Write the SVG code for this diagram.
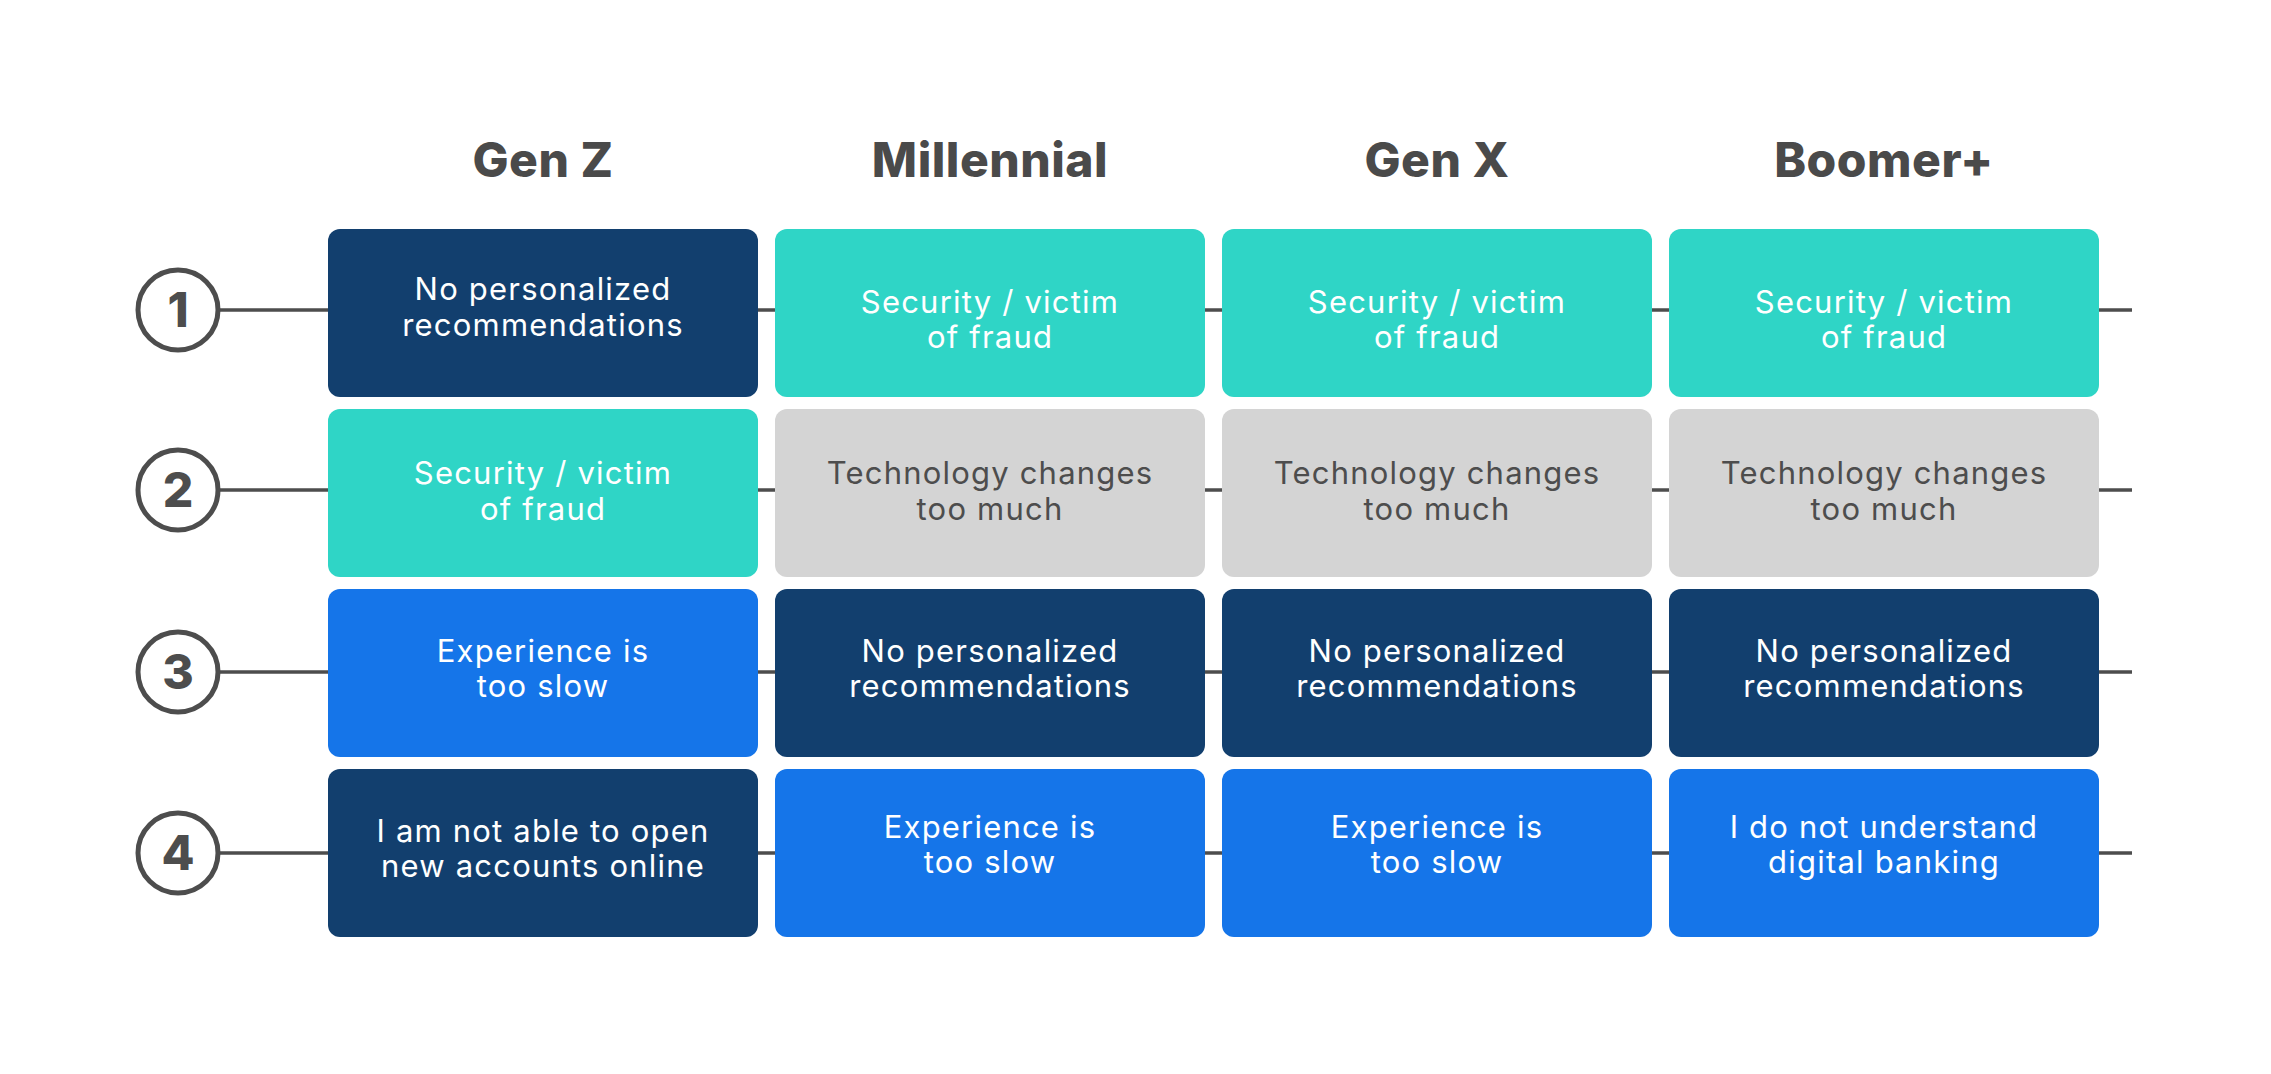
<svg xmlns="http://www.w3.org/2000/svg" width="2271" height="1074" viewBox="0 0 2271 1074">
<style>
.hd{font-family:Inter,"Noto Sans",sans-serif;font-weight:800;font-size:48px;letter-spacing:0.5px;fill:#4a4a4a;text-anchor:middle}
.num{font-family:Inter,"Noto Sans",sans-serif;font-weight:800;font-size:48px;fill:#4d4d4d;text-anchor:middle}
.ring{fill:#fff;stroke:#4d4d4d;stroke-width:5}
.ln{stroke:#4d4d4d;stroke-width:3.5}
.t{font-family:Inter,"Noto Sans",sans-serif;font-weight:400;font-size:31px;letter-spacing:1.2px;text-anchor:middle;fill:#fff}
.dk{fill:#4d4d4d}
.navy{fill:#123f6e}
.teal{fill:#2fd5c6}
.gray{fill:#d4d4d4}
.blue{fill:#1575e9}
</style>
<rect width="2271" height="1074" fill="#fff"/>
<g id="headers">
<text class="hd" x="543" y="177">Gen Z</text>
<text class="hd" x="990" y="177">Millennial</text>
<text class="hd" x="1437" y="177">Gen X</text>
<text class="hd" x="1884" y="177">Boomer+</text>
</g>
<g id="connectors">
<line class="ln" x1="220" y1="310" x2="2132" y2="310"/>
<line class="ln" x1="220" y1="490" x2="2132" y2="490"/>
<line class="ln" x1="220" y1="672" x2="2132" y2="672"/>
<line class="ln" x1="220" y1="853" x2="2132" y2="853"/>
</g>
<g id="rank1"><circle class="ring" cx="178" cy="310" r="40"/><text class="num" x="178" y="327">1</text></g>
<g id="rank2"><circle class="ring" cx="178" cy="490" r="40"/><text class="num" x="178" y="507">2</text></g>
<g id="rank3"><circle class="ring" cx="178" cy="672" r="40"/><text class="num" x="178" y="689">3</text></g>
<g id="rank4"><circle class="ring" cx="178" cy="853" r="40"/><text class="num" x="178" y="870">4</text></g>

<g id="r1c1"><rect class="navy" x="328" y="229" width="430" height="168" rx="12"/><text class="t" x="543" y="300">No personalized</text><text class="t" x="543" y="336">recommendations</text></g>
<g id="r1c2"><rect class="teal" x="775" y="229" width="430" height="168" rx="12"/><text class="t" x="990" y="313">Security / victim</text><text class="t" x="990" y="348">of fraud</text></g>
<g id="r1c3"><rect class="teal" x="1222" y="229" width="430" height="168" rx="12"/><text class="t" x="1437" y="313">Security / victim</text><text class="t" x="1437" y="348">of fraud</text></g>
<g id="r1c4"><rect class="teal" x="1669" y="229" width="430" height="168" rx="12"/><text class="t" x="1884" y="313">Security / victim</text><text class="t" x="1884" y="348">of fraud</text></g>

<g id="r2c1"><rect class="teal" x="328" y="409" width="430" height="168" rx="12"/><text class="t" x="543" y="484">Security / victim</text><text class="t" x="543" y="520">of fraud</text></g>
<g id="r2c2"><rect class="gray" x="775" y="409" width="430" height="168" rx="12"/><text class="t dk" x="990" y="484">Technology changes</text><text class="t dk" x="990" y="520">too much</text></g>
<g id="r2c3"><rect class="gray" x="1222" y="409" width="430" height="168" rx="12"/><text class="t dk" x="1437" y="484">Technology changes</text><text class="t dk" x="1437" y="520">too much</text></g>
<g id="r2c4"><rect class="gray" x="1669" y="409" width="430" height="168" rx="12"/><text class="t dk" x="1884" y="484">Technology changes</text><text class="t dk" x="1884" y="520">too much</text></g>

<g id="r3c1"><rect class="blue" x="328" y="589" width="430" height="168" rx="12"/><text class="t" x="543" y="662">Experience is</text><text class="t" x="543" y="697">too slow</text></g>
<g id="r3c2"><rect class="navy" x="775" y="589" width="430" height="168" rx="12"/><text class="t" x="990" y="662">No personalized</text><text class="t" x="990" y="697">recommendations</text></g>
<g id="r3c3"><rect class="navy" x="1222" y="589" width="430" height="168" rx="12"/><text class="t" x="1437" y="662">No personalized</text><text class="t" x="1437" y="697">recommendations</text></g>
<g id="r3c4"><rect class="navy" x="1669" y="589" width="430" height="168" rx="12"/><text class="t" x="1884" y="662">No personalized</text><text class="t" x="1884" y="697">recommendations</text></g>

<g id="r4c1"><rect class="navy" x="328" y="769" width="430" height="168" rx="12"/><text class="t" x="543" y="842">I am not able to open</text><text class="t" x="543" y="877">new accounts online</text></g>
<g id="r4c2"><rect class="blue" x="775" y="769" width="430" height="168" rx="12"/><text class="t" x="990" y="838">Experience is</text><text class="t" x="990" y="873">too slow</text></g>
<g id="r4c3"><rect class="blue" x="1222" y="769" width="430" height="168" rx="12"/><text class="t" x="1437" y="838">Experience is</text><text class="t" x="1437" y="873">too slow</text></g>
<g id="r4c4"><rect class="blue" x="1669" y="769" width="430" height="168" rx="12"/><text class="t" x="1884" y="838">I do not understand</text><text class="t" x="1884" y="873">digital banking</text></g>
</svg>
